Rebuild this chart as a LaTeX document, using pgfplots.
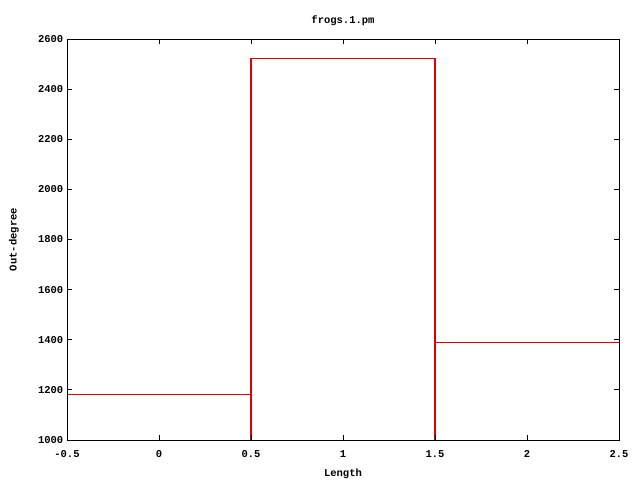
\documentclass[border=0pt]{standalone}
\usepackage{fontspec}
\setmainfont{Liberation Mono}
\usepackage{pgfplots}
\pgfplotsset{compat=1.18}
\usetikzlibrary{calc}
\definecolor{gpred}{RGB}{220,0,0}
\begin{document}
\fontsize{10.5}{12}\selectfont\bfseries
\begin{tikzpicture}[x=1pt,y=1pt]
\begin{axis}[
  name=ax,
  scale only axis,
  axis on top,
  width=552pt, height=401pt,
  xmin=-0.5, xmax=2.5, ymin=1000, ymax=2600,
  xtick={-0.5,0,0.5,1,1.5,2,2.5},
  xticklabels={-0.5,0,0.5,1,1.5,2,2.5},
  ytick={1000,1200,1400,1600,1800,2000,2200,2400,2600},
  yticklabels={1000,1200,1400,1600,1800,2000,2200,2400,2600},
  tick align=inside,
  major tick length=5pt,
  tick style={black, line width=0.8pt},
  axis line style={black, line width=0.8pt},
  xticklabel style={font=\fontsize{10.5}{12}\selectfont\bfseries, yshift=-7pt},
  yticklabel style={font=\fontsize{10.5}{12}\selectfont\bfseries},
  title={frogs.1.pm},
  title style={font=\fontsize{10.5}{12}\selectfont\bfseries, yshift=4pt},
  xlabel={Length},
  ylabel={Out-degree},
  xlabel style={font=\fontsize{10.5}{12}\selectfont\bfseries, yshift=-4pt},
  ylabel style={font=\fontsize{10.5}{12}\selectfont\bfseries, yshift=12pt},
  clip=true,
]
\addplot[gpred, line width=1.1pt, mark=none] coordinates {
  (-0.5,1183) (0.5,1183) (0.5,1000) (0.5,2522) (1.5,2522) (1.5,1000) (1.5,1390) (2.5,1390)
};
\end{axis}
\pgfresetboundingbox
\path[use as bounding box] ($(ax.south west)+(-67pt,-40pt)$) rectangle ($(ax.north east)+(21pt,39pt)$);
\end{tikzpicture}
\end{document}
